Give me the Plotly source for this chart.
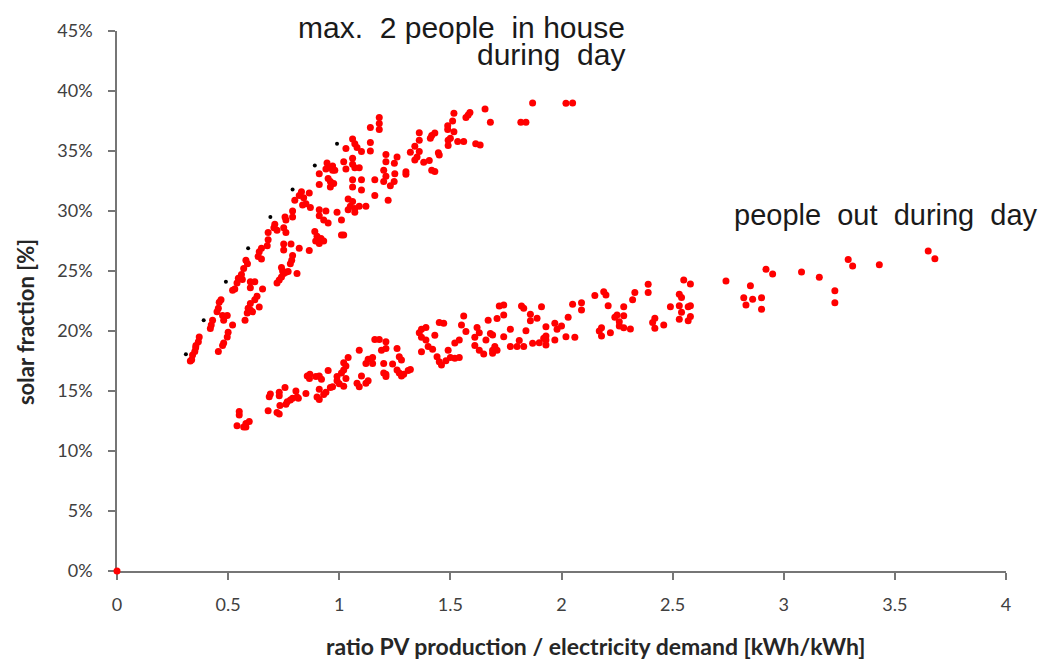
import plotly.graph_objects as go

# ---- data (x = ratio PV production / demand, y = solar fraction in %) ----
upper_pts = [
    (1.18, 37.8), (1.18, 37.3), (1.18, 36.8), (1.14, 36.95), (1.06, 36.0), (1.03, 35.2), (1.07, 35.6),
    (1.08, 35.3), (1.10, 34.95), (1.14, 35.7), (1.14, 35.0), (1.06, 34.4), (1.02, 34.1), (1.06, 33.9),
    (1.07, 33.6), (1.09, 33.6), (1.03, 33.5), (0.945, 34.0), (0.97, 33.75), (0.94, 33.5), (0.96, 33.6),
    (0.97, 33.4), (0.98, 33.4), (0.91, 33.1), (0.95, 32.7), (0.96, 32.45), (0.975, 32.3), (0.91, 32.2),
    (0.96, 32.0), (1.06, 32.6), (1.10, 32.6), (1.06, 32.0), (1.10, 31.75), (1.16, 32.6), (1.20, 32.45),
    (1.23, 32.1), (1.20, 33.4), (1.21, 34.7), (1.21, 34.1), (1.26, 34.5), (1.25, 33.1), (1.21, 32.9),
    (1.16, 31.3), (1.22, 30.9),
    (0.83, 31.6), (0.82, 31.3), (0.865, 31.5), (0.84, 31.1), (0.80, 30.9), (0.85, 30.6), (0.87, 30.3),
    (0.835, 30.5), (0.79, 30.0), (0.79, 29.5), (0.91, 30.1), (0.94, 30.0), (0.91, 29.6), (0.95, 29.0),
    (0.93, 29.25), (0.99, 29.9), (1.04, 31.0), (1.06, 30.8), (1.05, 30.4), (1.07, 30.2), (1.09, 30.4),
    (1.12, 30.4), (1.04, 30.1), (1.07, 29.9), (1.01, 29.25), (1.01, 28.0), (1.02, 28.0),
    (0.756, 29.5), (0.76, 29.25), (0.71, 28.9), (0.706, 28.6), (0.72, 28.4), (0.75, 28.6), (0.76, 28.2),
    (0.68, 28.2), (0.89, 28.3), (0.90, 27.9), (0.918, 27.7), (0.93, 27.5), (0.894, 27.5), (0.91, 27.3),
    (0.68, 27.6), (0.676, 27.1), (0.75, 27.25), (0.783, 27.25), (0.75, 26.75), (0.82, 26.9), (0.865, 26.7),
    (0.65, 26.9), (0.64, 26.6), (0.635, 26.2), (0.65, 26.0), (0.58, 25.9), (0.587, 25.6), (0.57, 25.2),
    (0.79, 26.3), (0.786, 25.9), (0.78, 25.6), (0.74, 25.3), (0.745, 25.0), (0.76, 24.9), (0.77, 24.95),
    (0.81, 24.8), (0.75, 24.8), (0.74, 24.5), (0.72, 24.0), (0.73, 24.25),
    (0.56, 24.7), (0.564, 24.3), (0.546, 24.4), (0.54, 24.0), (0.53, 23.5), (0.52, 23.4), (0.60, 24.1),
    (0.62, 24.1), (0.60, 23.6), (0.655, 23.5), (0.63, 22.9), (0.62, 22.6), (0.60, 22.3), (0.59, 21.9),
    (0.60, 21.75), (0.61, 21.6), (0.64, 22.0), (0.586, 21.5), (0.576, 20.9), (0.468, 22.6), (0.46, 22.4),
    (0.456, 21.9), (0.45, 21.6), (0.475, 21.3), (0.496, 21.3), (0.48, 20.9), (0.43, 20.9), (0.424, 20.5),
    (0.42, 20.2), (0.52, 20.5), (0.50, 19.9), (0.496, 19.5), (0.48, 19.0), (0.475, 18.8), (0.456, 18.3),
    (0.37, 19.5), (0.366, 19.1), (0.355, 18.8), (0.354, 18.6), (0.35, 18.3), (0.34, 18.0), (0.336, 17.6),
    (0.33, 17.5),
    (1.87, 39.0), (2.02, 38.98), (2.05, 39.0), (1.656, 38.5), (1.68, 37.4), (1.817, 37.4), (1.84, 37.4),
    (1.516, 38.14), (1.57, 37.8), (1.58, 38.0), (1.588, 38.2), (1.51, 37.5), (1.488, 37.1), (1.488, 36.8),
    (1.516, 36.6), (1.50, 36.06), (1.49, 35.9), (1.49, 35.45), (1.533, 35.8), (1.56, 35.8), (1.614, 35.6),
    (1.634, 35.5), (1.36, 36.53), (1.36, 35.9), (1.41, 36.06), (1.416, 36.3), (1.43, 36.5), (1.34, 35.4),
    (1.32, 34.9), (1.36, 34.95), (1.35, 34.5), (1.34, 34.25), (1.247, 32.45), (1.248, 33.98), (1.30, 33.28),
    (1.30, 33.06), (1.38, 34.06), (1.405, 34.2), (1.416, 33.4), (1.43, 33.3), (1.446, 34.86), (1.45, 34.67),
]

lower_pts = [
    (0.55, 13.3), (0.55, 13.0), (0.54, 12.1), (0.57, 12.0), (0.58, 12.3), (0.595, 12.45), (0.58, 12.0),
    (0.68, 13.36), (0.69, 14.75), (0.685, 14.53), (0.73, 14.9), (0.73, 14.6), (0.756, 15.3), (0.733, 13.8),
    (0.72, 13.2), (0.73, 13.08), (0.766, 14.1), (0.78, 14.25), (0.79, 14.4), (0.81, 14.5), (0.805, 15.0),
    (0.816, 14.4), (0.76, 13.9),
    (0.85, 14.8), (0.856, 16.25), (0.868, 16.4), (0.866, 16.05), (0.895, 16.2), (0.91, 16.25), (0.92, 15.97),
    (0.95, 16.7), (0.91, 15.14), (0.90, 14.5), (0.91, 14.3), (0.93, 14.7), (0.94, 14.9), (0.96, 15.3),
    (0.97, 15.36), (0.99, 15.86), (1.00, 15.6), (1.02, 15.4), (0.99, 16.2), (1.01, 16.5), (1.02, 16.75),
    (1.03, 17.08), (1.02, 17.36), (1.04, 17.8), (1.03, 16.05),
    (1.09, 18.4), (1.10, 16.25), (1.08, 15.64), (1.09, 15.36), (1.12, 15.64), (1.13, 15.86), (1.12, 17.3),
    (1.13, 17.64), (1.15, 17.8), (1.15, 17.3), (1.16, 19.3), (1.18, 19.3), (1.19, 18.4), (1.21, 19.1),
    (1.21, 18.55), (1.20, 17.3), (1.20, 16.5), (1.21, 16.2), (1.21, 16.4), (1.24, 17.25), (1.26, 18.55),
    (1.27, 17.86), (1.28, 17.58), (1.26, 16.75), (1.27, 16.5), (1.28, 16.25), (1.29, 16.4), (1.31, 16.7),
    (1.32, 16.8),
    (1.36, 19.86), (1.37, 20.14), (1.39, 20.3), (1.37, 19.47), (1.39, 19.25), (1.40, 18.7), (1.37, 18.28),
    (1.42, 18.47), (1.43, 19.64), (1.45, 20.7), (1.47, 20.64), (1.44, 17.86), (1.45, 17.44), (1.46, 17.17),
    (1.48, 17.53), (1.49, 18.4), (1.50, 17.8), (1.52, 17.72), (1.54, 17.8), (1.54, 19.25), (1.52, 19.0),
    (1.56, 21.25), (1.55, 20.5), (1.57, 19.95), (1.61, 19.47), (1.62, 20.3), (1.63, 19.86), (1.61, 18.8),
    (1.63, 18.4), (1.65, 18.08), (1.66, 19.25), (1.67, 20.9), (1.68, 19.8), (1.69, 19.67), (1.71, 21.05),
    (1.72, 22.08), (1.69, 18.4), (1.69, 18.14), (1.71, 18.4), (1.70, 18.7),
    (2.92, 25.14), (2.95, 24.75), (2.74, 24.17), (2.85, 23.78), (2.82, 22.78), (2.86, 22.64), (2.90, 22.78),
    (2.83, 22.17), (2.90, 21.81), (2.55, 24.25), (2.58, 23.92), (2.39, 23.9), (2.39, 23.2), (2.53, 23.06),
    (2.54, 22.8), (2.33, 23.2), (2.32, 22.6), (2.49, 22.03), (2.53, 22.1), (2.57, 22.03), (2.58, 22.1),
    (2.54, 21.56), (2.58, 21.2), (2.57, 20.86), (2.53, 20.97), (2.46, 20.5), (2.42, 21.06), (2.41, 20.7),
    (2.42, 20.23), (2.31, 20.17), (2.28, 22.03), (2.21, 22.1), (2.28, 21.28), (2.25, 21.33), (2.24, 21.14),
    (2.26, 20.78), (2.26, 20.42), (2.28, 20.28), (2.22, 19.86), (2.18, 20.28), (2.17, 20.0), (2.18, 19.58),
    (2.15, 22.95), (2.19, 23.28), (2.20, 23.0), (2.09, 22.36), (2.05, 22.22), (2.09, 21.75), (2.03, 21.14),
    (2.00, 20.42), (1.97, 20.64), (1.98, 20.14), (2.02, 19.53), (2.06, 19.47), (1.97, 19.25), (1.93, 19.58),
    (1.93, 20.36), (1.93, 19.25), (1.93, 18.84), (1.92, 19.4), (1.89, 21.06), (1.91, 22.03), (1.86, 21.4),
    (1.86, 20.86), (1.84, 20.03), (1.82, 22.08), (1.83, 21.9), (1.90, 19.03), (1.87, 18.97), (1.83, 18.7),
    (1.81, 19.2), (1.80, 18.7), (1.77, 20.14), (1.77, 18.7), (1.74, 19.53), (1.74, 21.33), (1.74, 22.17),
    (3.65, 26.67), (3.68, 26.03), (3.43, 25.53), (3.29, 25.95), (3.31, 25.42), (3.08, 24.92), (3.16, 24.47),
    (3.23, 23.36), (3.23, 22.36),
]

envelope_pts = [(0.31, 18.06), (0.39, 20.9), (0.49, 24.1), (0.59, 26.9), (0.69, 29.5), (0.79, 31.8),
                (0.89, 33.8), (0.99, 35.6)]

origin_pt = [(0.0, 0.0)]

x_ticks = [0, 0.5, 1, 1.5, 2, 2.5, 3, 3.5, 4]
x_ticklabels = ["0", "0.5", "1", "1.5", "2", "2.5", "3", "3.5", "4"]
y_ticks = [0, 5, 10, 15, 20, 25, 30, 35, 40, 45]
y_ticklabels = ["0%", "5%", "10%", "15%", "20%", "25%", "30%", "35%", "40%", "45%"]

x_title = "ratio PV production / electricity demand [kWh/kWh]"
y_title = "solar fraction [%]"
label_house = ["max.\u00a0 2 people\u00a0 in house", "during\u00a0 day"]
label_out = "people\u00a0 out\u00a0 during\u00a0 day"

# ---- figure ----
RED = "#ff0000"
AXIS = "#767676"
TICKFONT = dict(family="Lato, Open Sans, sans-serif", size=18, color="#404040")
XTITLEFONT = dict(family="Lato, Open Sans, sans-serif", size=23, color="#262626")
YTITLEFONT = dict(family="Lato, Open Sans, sans-serif", size=22, color="#262626")
LABELFONT = dict(family="Liberation Sans, Arial, sans-serif", size=30, color="#1a1a1a")
LABELFONT_OUT = dict(family="Liberation Sans, Arial, sans-serif", size=29, color="#1a1a1a")

fig = go.Figure()


def add_points(pts, color, size):
    fig.add_trace(go.Scatter(
        x=[p[0] for p in pts], y=[p[1] for p in pts], mode="markers",
        marker=dict(color=color, size=size, line=dict(width=0)),
        cliponaxis=False, hoverinfo="x+y",
    ))


add_points(upper_pts, RED, 7)
add_points(lower_pts, RED, 7)
add_points(envelope_pts, "#000000", 4)
add_points(origin_pt, RED, 7)

fig.update_layout(
    width=1050, height=660,
    margin=dict(l=109, r=52, t=23, b=97),
    plot_bgcolor="white", paper_bgcolor="white",
    showlegend=False,
    xaxis=dict(
        range=[0, 4], tickmode="array", tickvals=x_ticks, ticktext=x_ticklabels,
        showline=True, linecolor=AXIS, linewidth=1.5, ticks="outside", ticklen=7,
        tickcolor=AXIS, tickwidth=1.5, showgrid=False, zeroline=False, tickfont=TICKFONT,
        ticklabelstandoff=10, layer="below traces",
    ),
    yaxis=dict(
        range=[0, 45], tickmode="array", tickvals=y_ticks, ticktext=y_ticklabels,
        showline=True, linecolor=AXIS, linewidth=1.5, ticks="outside", ticklen=7,
        tickcolor=AXIS, tickwidth=1.5, showgrid=False, zeroline=False, tickfont=TICKFONT,
        ticklabelstandoff=12, layer="below traces",
    ),
    annotations=[
        dict(x=0.574, y=1.0074, xref="paper", yref="paper", text=label_house[0], showarrow=False,
             xanchor="right", yanchor="middle", font=LABELFONT),
        dict(x=0.574, y=0.9556, xref="paper", yref="paper", text=label_house[1], showarrow=False,
             xanchor="right", yanchor="middle", font=LABELFONT),
        dict(x=0.692, y=0.6593, xref="paper", yref="paper", text=label_out, showarrow=False,
             xanchor="left", yanchor="middle", font=LABELFONT_OUT),
        dict(x=0.539, y=-0.139, xref="paper", yref="paper", text="<b>" + x_title + "</b>",
             showarrow=False, xanchor="center", yanchor="middle", font=XTITLEFONT),
        dict(x=-0.1035, y=0.461, xref="paper", yref="paper", text="<b>" + y_title + "</b>",
             showarrow=False, xanchor="center", yanchor="middle", textangle=-90, font=YTITLEFONT),
    ],
)

fig.write_html("out.html")
